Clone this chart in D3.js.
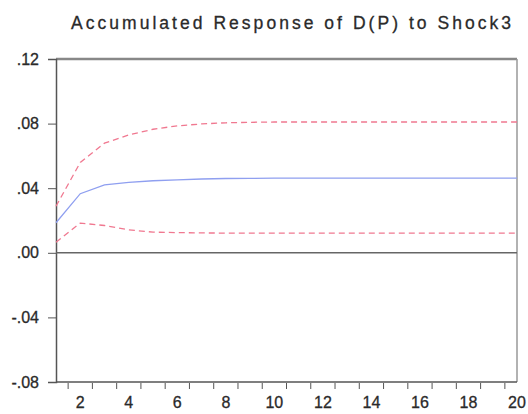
<!DOCTYPE html>
<html>
<head>
<meta charset="utf-8">
<script src="https://cdn.jsdelivr.net/npm/d3@7"></script>
<style>
  body { margin: 0; background: #fff; }
  text { font-family: "Liberation Sans", Arial, sans-serif; }
</style>
</head>
<body>
<script>
// Accumulated response of D(P) to Shock3, periods 1..20
const periods = d3.range(1, 21);
const response = [0.0186, 0.0366, 0.0420, 0.0436, 0.0446, 0.0452, 0.0457, 0.0460, 0.0461, 0.0462,
                  0.0462, 0.0462, 0.0462, 0.0462, 0.0462, 0.0462, 0.0462, 0.0462, 0.0462, 0.0462];
const upperBand = [0.0288, 0.0559, 0.0679, 0.0730, 0.0765, 0.0786, 0.0798, 0.0805, 0.0808, 0.0810,
                   0.0810, 0.0810, 0.0810, 0.0810, 0.0810, 0.0810, 0.0810, 0.0810, 0.0810, 0.0810];
const lowerBand = [0.0066, 0.0184, 0.0169, 0.0142, 0.0128, 0.0125, 0.0123, 0.0122, 0.0122, 0.0122,
                   0.0122, 0.0122, 0.0122, 0.0122, 0.0122, 0.0122, 0.0122, 0.0122, 0.0122, 0.0122];
const yTicks = [-0.08, -0.04, 0, 0.04, 0.08, 0.12];
const yTickLabels = ['-.08', '-.04', '.00', '.04', '.08', '.12'];
const xLabels = [2, 4, 6, 8, 10, 12, 14, 16, 18, 20];

const width = 528, height = 414;
const plotLeft = 56, plotRight = 517, plotTop = 59, plotBottom = 382;

const svg = d3.select('body').append('svg')
  .attr('width', width)
  .attr('height', height);

const x = d3.scaleLinear().domain([1, 20]).range([plotLeft, plotRight]);
const y = d3.scaleLinear().domain([-0.08, 0.12]).range([plotBottom, plotTop]);

// Title
svg.append('text')
  .attr('x', 291)
  .attr('y', 29)
  .attr('text-anchor', 'middle')
  .attr('font-size', 17.5)
  .attr('textLength', 440)
  .attr('lengthAdjust', 'spacing')
  .attr('fill', '#2a2a2a')
  .attr('stroke', '#2a2a2a')
  .attr('stroke-width', 0.3)
  .text('Accumulated Response of D(P) to Shock3');

// Frame
svg.append('line').attr('x1', plotLeft).attr('x2', plotRight).attr('y1', plotTop).attr('y2', plotTop)
  .attr('stroke', '#888').attr('stroke-width', 2.5);
svg.append('line').attr('x1', plotRight).attr('x2', plotRight).attr('y1', plotTop).attr('y2', plotBottom)
  .attr('stroke', '#999').attr('stroke-width', 1.5);

// Y axis
const yAxis = d3.axisLeft(y)
  .tickValues(yTicks)
  .tickSize(8)
  .tickPadding(9)
  .tickFormat((d, i) => yTickLabels[i]);
const gy = svg.append('g').attr('transform', `translate(${plotLeft},0)`).call(yAxis);
gy.select('.domain').attr('stroke', '#555').attr('stroke-width', 1.5);
gy.selectAll('.tick line').attr('stroke', '#555');
gy.selectAll('.tick text').attr('font-size', 16).attr('fill', '#2a2a2a')
  .attr('stroke', '#2a2a2a').attr('stroke-width', 0.3)
  .attr('font-family', '"Liberation Sans", Arial, sans-serif');

// X axis: ticks between periods, labels at period centres
svg.append('line').attr('x1', plotLeft).attr('x2', plotRight).attr('y1', plotBottom).attr('y2', plotBottom)
  .attr('stroke', '#555').attr('stroke-width', 1.5);
svg.selectAll('.xtick')
  .data(d3.range(1.5, 20, 1))
  .enter()
  .append('line')
  .attr('class', 'xtick')
  .attr('x1', d => x(d)).attr('x2', d => x(d))
  .attr('y1', plotBottom + 1).attr('y2', plotBottom + 7)
  .attr('stroke', '#555');
svg.selectAll('.xlabel')
  .data(xLabels)
  .enter()
  .append('text')
  .attr('class', 'xlabel')
  .attr('x', d => x(d))
  .attr('y', 408)
  .attr('text-anchor', 'middle')
  .attr('font-size', 16)
  .attr('fill', '#2a2a2a')
  .attr('stroke', '#2a2a2a')
  .attr('stroke-width', 0.3)
  .text(d => d);

// Zero line
svg.append('line').attr('x1', plotLeft).attr('x2', plotRight).attr('y1', y(0)).attr('y2', y(0))
  .attr('stroke', '#666').attr('stroke-width', 1.5);

const line = d3.line().x((d, i) => x(periods[i])).y(d => y(d));

svg.append('path').datum(upperBand).attr('d', line)
  .attr('fill', 'none').attr('stroke', '#f07890').attr('stroke-width', 1.3)
  .attr('stroke-dasharray', '6,4');
svg.append('path').datum(lowerBand).attr('d', line)
  .attr('fill', 'none').attr('stroke', '#f07890').attr('stroke-width', 1.3)
  .attr('stroke-dasharray', '6,4');
svg.append('path').datum(response).attr('d', line)
  .attr('fill', 'none').attr('stroke', '#8f9ff0').attr('stroke-width', 1.3);
</script>
</body>
</html>
